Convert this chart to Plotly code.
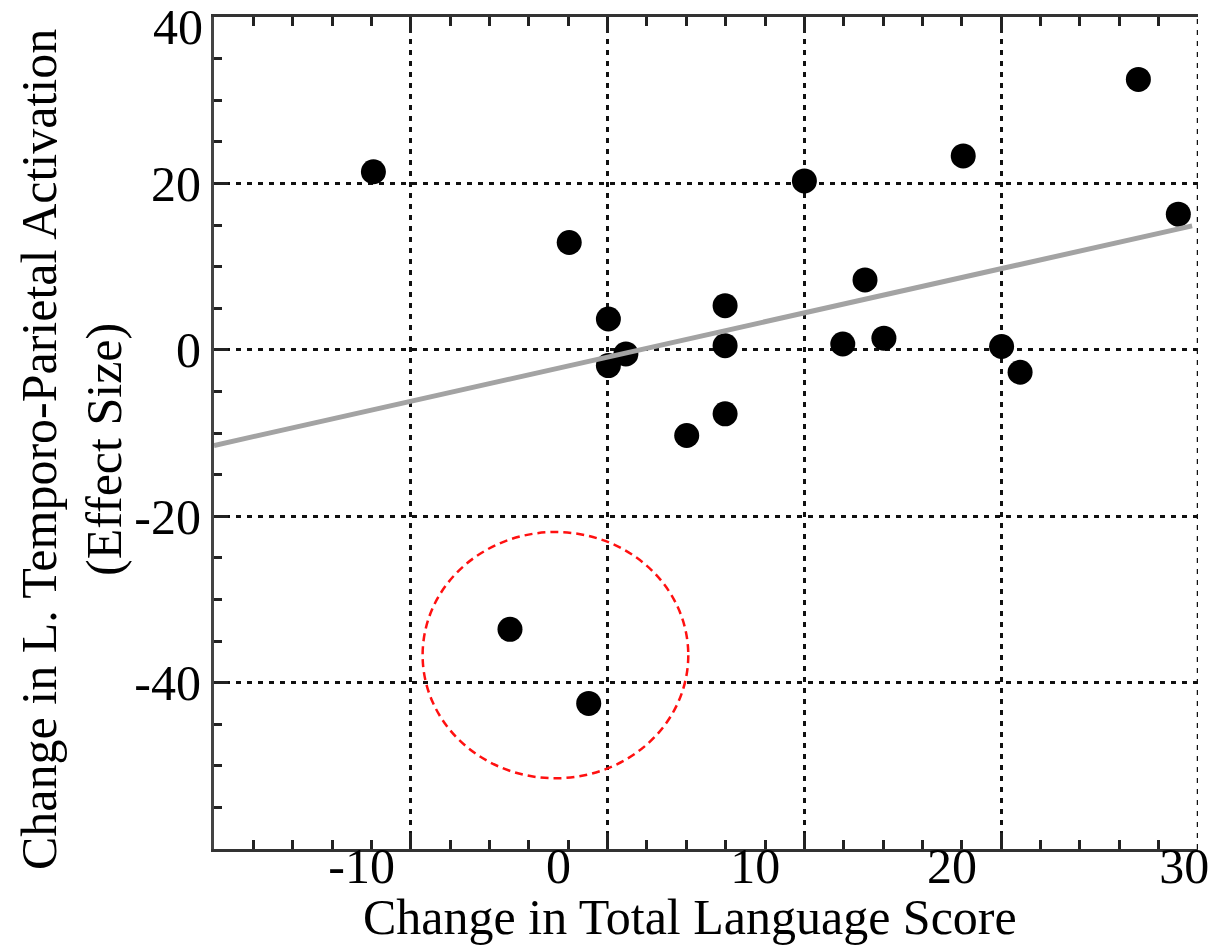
import plotly.graph_objects as go

# ---- data ----
lang_change = [-9.4, 0.55, 2.54, 3.43, 2.54, 8.47, 8.47, 8.47, 6.52, 12.5,
               20.57, 29.47, 31.5, 15.58, 14.45, 16.54, 22.52, 23.46, -2.46, 1.54]
activation_change = [21.4, 12.9, 3.7, -0.5, -1.9, 5.3, 0.5, -7.7, -10.3, 20.3,
                     23.3, 32.5, 16.3, 8.4, 0.7, 1.4, 0.4, -2.7, -33.6, -42.5]

fit_x = [-17.5, 32.2]
fit_y = [-11.5, 14.9]

circle_x = [-6.9, 6.6]
circle_y = [-51.5, -21.9]

x_range = [-17.5, 32.5]
y_range = [-60, 40]
x_grid_vals = [-7.5, 2.5, 12.5, 22.5, 32.5]
x_label_vals = [-10, 0, 10, 20, 31.8]
x_label_text = ["-10", "0", "10", "20", "30"]
y_tick_vals = [-40, -20, 0, 20, 40]
y_tick_text = ["-40", "-20", "0", "20", "40"]

x_title = "Change in Total Language Score"
y_title = "Change in L. Temporo-Parietal Activation<br>(Effect Size)"

FONT = "Liberation Serif, Times New Roman, serif"
GRID_DASH = "5px,6px"

fig = go.Figure()

fig.add_trace(go.Scatter(
    x=lang_change, y=activation_change, mode="markers",
    marker=dict(size=25, color="black", line=dict(width=0)),
    showlegend=False, hoverinfo="skip"))

fig.add_trace(go.Scatter(
    x=fit_x, y=fit_y, mode="lines",
    line=dict(color="#a3a3a3", width=5),
    showlegend=False, hoverinfo="skip"))

# invisible trace to carry the label axis
fig.add_trace(go.Scatter(x=[None], y=[None], xaxis="x2", yaxis="y",
                         showlegend=False, hoverinfo="skip"))

fig.add_shape(type="circle", xref="x", yref="y",
              x0=circle_x[0], x1=circle_x[1], y0=circle_y[0], y1=circle_y[1],
              line=dict(color="#ff1010", width=2.5, dash="8px,5px"),
              layer="above")

# right-edge dotted grid line
fig.add_shape(type="line", xref="x", yref="paper",
              x0=x_grid_vals[-1], x1=x_grid_vals[-1], y0=0, y1=1,
              line=dict(color="#111", width=2.5, dash=GRID_DASH),
              layer="below")

# top tick label (at the very edge of the plot, drawn as text so it stays visible)
fig.add_annotation(text=y_tick_text[-1], xref="paper", yref="y",
                   x=0, y=y_tick_vals[-1], xanchor="right", yanchor="middle",
                   xshift=-9, yshift=-10, showarrow=False,
                   font=dict(family=FONT, size=50, color="black"))

fig.add_annotation(text=x_title, xref="paper", yref="paper",
                   x=0.4837, y=-0.0820, xanchor="center", yanchor="middle",
                   showarrow=False, font=dict(family=FONT, size=50, color="black"))
fig.add_annotation(text=y_title, xref="paper", yref="paper",
                   x=-0.1443, y=0.4796, xanchor="center", yanchor="middle",
                   textangle=-90, showarrow=False,
                   font=dict(family=FONT, size=50, color="black"))

fig.update_layout(
    width=1230, height=946,
    margin=dict(l=214, r=32, t=17, b=97),
    paper_bgcolor="white", plot_bgcolor="white",
    font=dict(family=FONT, size=50, color="black"),
    xaxis=dict(
        range=x_range, tickmode="array", tickvals=x_grid_vals,
        showticklabels=False, ticks="inside", ticklen=16, tickwidth=2.5,
        tickcolor="#222", showgrid=True, gridcolor="#111", gridwidth=2.5,
        griddash=GRID_DASH, showline=True, linecolor="#333", linewidth=3,
        mirror="ticks", zeroline=False,
        minor=dict(tick0=-17.5, dtick=2, ticks="inside", ticklen=9,
                   tickwidth=2.5, tickcolor="#222", showgrid=False)),
    xaxis2=dict(
        range=x_range, overlaying="x", anchor="y", side="bottom",
        tickmode="array", tickvals=x_label_vals, ticktext=x_label_text,
        ticks="", showgrid=False, showline=False, zeroline=False,
        ticklabelstandoff=-17,
        tickfont=dict(family=FONT, size=50, color="black")),
    yaxis=dict(
        range=y_range, tickmode="array", tickvals=y_tick_vals[:-1],
        ticktext=y_tick_text[:-1], ticks="inside", ticklen=14, tickwidth=2.5,
        tickcolor="#222", showgrid=True, gridcolor="#111", gridwidth=2.5,
        griddash=GRID_DASH, showline=True, linecolor="#444", linewidth=3,
        zeroline=False, tickfont=dict(family=FONT, size=50, color="black"),
        minor=dict(tick0=0, dtick=5, ticks="inside", ticklen=8,
                   tickwidth=2.5, tickcolor="#222", showgrid=False)),
)

fig.write_html("out.html", config={"displayModeBar": False},
               post_script="document.body.style.margin='0';document.body.style.overflow='hidden';")
